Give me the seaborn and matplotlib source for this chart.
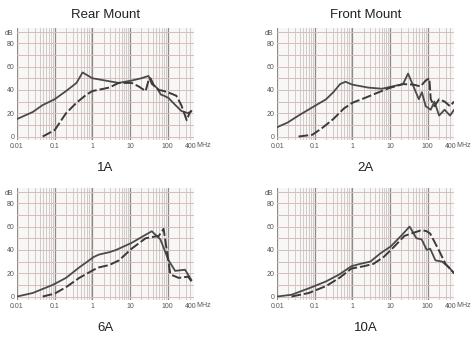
import matplotlib
matplotlib.use('Agg')
import matplotlib.pyplot as plt
import seaborn as sns
import numpy as np

# insertion loss curves, frequency in MHz, attenuation in dB
# 1A rear mount
f_1a_solid = [0.01, 0.026, 0.048, 0.1, 0.2, 0.38, 0.55, 1, 1.5, 5, 11, 20, 31, 38, 51, 66, 80, 106, 160, 230, 350, 430]
db_1a_solid = [15, 21, 27, 32, 39, 46, 55, 50, 49, 46, 48, 50, 52, 45, 42, 36, 35, 33, 27, 22, 20, 22]
f_1a_dash = [0.048, 0.1, 0.2, 0.38, 0.7, 1, 2.8, 5, 11, 17, 26, 31, 35, 43, 58, 80, 120, 170, 230, 320, 380, 430]
db_1a_dash = [0, 5.5, 20, 29, 36, 39, 42, 46, 46, 43, 39, 48, 50, 44, 40, 39, 37, 35, 27, 14, 20, 22]

# 2A front mount
f_2a_solid = [0.01, 0.019, 0.037, 0.086, 0.2, 0.31, 0.47, 0.65, 1, 2.6, 6.1, 11.5, 22, 30, 58, 70, 88, 120, 150, 200, 280, 390, 500]
db_2a_solid = [8, 12, 18, 25, 32, 38, 45, 47, 44.5, 42, 41, 43, 45, 54, 32, 38, 26, 23, 30, 18, 23, 18, 23]
f_2a_dash = [0.037, 0.086, 0.16, 0.31, 0.59, 1, 2.1, 5, 9.3, 22, 42, 64, 88, 110, 120, 150, 200, 280, 390, 500]
db_2a_dash = [0, 1.5, 7.5, 15, 24, 29, 33, 38, 41.5, 45, 44.5, 43, 48, 50, 32, 26, 32, 30, 26, 30]

# 6A rear mount
f_6a_solid = [0.01, 0.026, 0.089, 0.2, 0.45, 1.1, 1.5, 2.8, 4.3, 11, 26, 38, 64, 106, 158, 290, 430]
db_6a_solid = [0, 3, 10, 16, 25, 34, 36, 38, 40, 46, 53, 56, 49, 31, 22, 23, 14]
f_6a_dash = [0.048, 0.1, 0.2, 0.45, 1.1, 1.5, 2.8, 5.1, 11, 26, 58, 78, 118, 195, 350, 430]
db_6a_dash = [0, 2.5, 8, 16, 23, 25, 27, 31, 41, 50, 52, 58, 19, 16, 17, 13]

# 10A front mount
f_10a_solid = [0.01, 0.024, 0.069, 0.2, 0.45, 0.94, 1.6, 3, 5.5, 10.4, 19.5, 33, 50, 69, 94, 116, 160, 240, 365, 500]
db_10a_solid = [0, 1.5, 7, 13, 19, 26, 28, 30, 37, 43, 52, 60, 50, 49, 40, 41, 31, 30, 25, 20]
f_10a_dash = [0.024, 0.069, 0.2, 0.45, 0.94, 2, 3.6, 6.8, 13, 24, 36, 69, 94, 116, 195, 296, 500]
db_10a_dash = [0, 3, 9, 16, 24, 26, 28, 34, 43, 52, 54, 57, 56, 54, 40, 28, 20]

panels = [
    ('1A', f_1a_solid, db_1a_solid, f_1a_dash, db_1a_dash),
    ('2A', f_2a_solid, db_2a_solid, f_2a_dash, db_2a_dash),
    ('6A', f_6a_solid, db_6a_solid, f_6a_dash, db_6a_dash),
    ('10A', f_10a_solid, db_10a_solid, f_10a_dash, db_10a_dash),
]
col_titles = ['Rear Mount', 'Front Mount']
x_ticks = [0.01, 0.1, 1, 10, 100, 400]
x_labels = ['0.01', '0.1', '1', '10', '100', '400']
y_ticks = [0, 20, 40, 60, 80]

sns.set_style('white')
plt.rcParams['font.family'] = ['Liberation Sans', 'DejaVu Sans']

fig, axes = plt.subplots(2, 2, figsize=(4.73, 3.39), dpi=100)
fig.subplots_adjust(left=0.036, right=0.96, top=0.917, bottom=0.115, wspace=0.47, hspace=0.43)

minor_f = [m * 10.0 ** d for d in range(-2, 3) for m in range(2, 10)]
minor_f = [v for v in minor_f if v < 500]
decades = [0.01, 0.1, 1, 10, 100]

for i, (ax, (name, fs, ds, fd, dd)) in enumerate(zip(axes.flat, panels)):
    ax.set_facecolor('#f8f7f6')
    for v in minor_f:
        ax.axvline(v, color='#d2c9c9', lw=0.7, zorder=0)
    for v in decades:
        ax.axvline(v, color='#8e8a8a', lw=0.9, zorder=0)
    for h in range(0, 100, 10):
        ax.axhline(h, color='#d3bebc', lw=0.7, zorder=0)

    sns.lineplot(x=fs, y=ds, ax=ax, color='#4a4a4a', lw=1.3, estimator=None, sort=False)
    sns.lineplot(x=fd, y=dd, ax=ax, color='#3a3a3a', lw=1.4, estimator=None, sort=False,
                 linestyle=(0, (5, 1.5)))

    ax.set_xscale('log')
    ax.set_xlim(0.01, 500)
    ax.set_ylim(-3, 93)
    ax.set_xticks(x_ticks, labels=x_labels)
    ax.set_xticks([], minor=True)
    ax.set_yticks(y_ticks)
    ax.tick_params(axis='both', length=0, labelsize=5, colors='#555555', pad=2)
    ax.text(-0.02, 88, 'dB', transform=ax.get_yaxis_transform(), ha='right', va='center',
            fontsize=5, color='#555555')
    ax.text(1.015, -0.02, 'MHz', transform=ax.transAxes, ha='left', va='top',
            fontsize=5, color='#555555')
    for s in ax.spines.values():
        s.set_visible(False)
    ax.set_xlabel(name, fontsize=9.5, labelpad=9, color='#222222')
    ax.set_ylabel('')
    if i < 2:
        ax.set_title(col_titles[i], fontsize=9.5, pad=7, color='#222222')

fig.savefig('out.png', dpi=100)
